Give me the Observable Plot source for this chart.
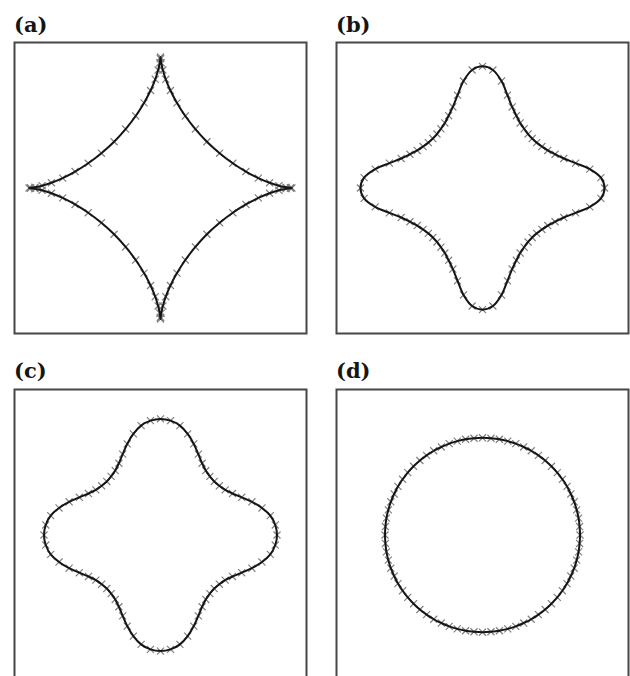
<!DOCTYPE html>
<html>
<head>
<meta charset="utf-8">
<script src="https://cdn.jsdelivr.net/npm/d3@7"></script>
<script src="https://cdn.jsdelivr.net/npm/@observablehq/plot@0.6"></script>
<style>
  html, body { margin: 0; padding: 0; background: #fff; }
  #fig { position: relative; width: 630px; height: 676px; overflow: hidden; background: #fff; }
  .lbl { position: absolute; font-family: "DejaVu Serif", serif; font-weight: bold; font-size: 21px; line-height: 21px; color: #151515; }
  .pnl { position: absolute; }
</style>
</head>
<body>
<div id="fig"></div>
<script>
// Panel labels
const labels = ["(a)", "(b)", "(c)", "(d)"];

// (a) four-cusped curve, 72 samples
const xA = [0.900,0.890,0.860,0.811,0.747,0.670,0.585,0.495,0.405,0.318,0.239,0.170,0.113,0.068,0.036,0.016,0.005,0.001,0,
  -0.001,-0.005,-0.016,-0.036,-0.068,-0.113,-0.170,-0.239,-0.318,-0.405,-0.495,-0.585,-0.670,-0.747,-0.811,-0.860,-0.890,-0.900,
  -0.890,-0.860,-0.811,-0.747,-0.670,-0.585,-0.495,-0.405,-0.318,-0.239,-0.170,-0.113,-0.068,-0.036,-0.016,-0.005,-0.001,0,
  0.001,0.005,0.016,0.036,0.068,0.113,0.170,0.239,0.318,0.405,0.495,0.585,0.670,0.747,0.811,0.860,0.890];
const yA = [0,0.001,0.005,0.016,0.036,0.068,0.113,0.170,0.239,0.318,0.405,0.495,0.585,0.670,0.747,0.811,0.860,0.890,0.900,
  0.890,0.860,0.811,0.747,0.670,0.585,0.495,0.405,0.318,0.239,0.170,0.113,0.068,0.036,0.016,0.005,0.001,0,
  -0.001,-0.005,-0.016,-0.036,-0.068,-0.113,-0.170,-0.239,-0.318,-0.405,-0.495,-0.585,-0.670,-0.747,-0.811,-0.860,-0.890,-0.900,
  -0.890,-0.860,-0.811,-0.747,-0.670,-0.585,-0.495,-0.405,-0.318,-0.239,-0.170,-0.113,-0.068,-0.036,-0.016,-0.005,-0.001];

// (b) rounded four-pointed star
const xB = [0.836,0.811,0.735,0.638,0.557,0.497,0.447,0.407,0.371,0.340,0.312,0.285,0.258,0.232,0.203,0.171,0.130,0.071,0,
  -0.071,-0.130,-0.171,-0.203,-0.232,-0.258,-0.285,-0.312,-0.340,-0.371,-0.407,-0.447,-0.497,-0.557,-0.638,-0.735,-0.811,-0.836,
  -0.811,-0.735,-0.638,-0.557,-0.497,-0.447,-0.407,-0.371,-0.340,-0.312,-0.285,-0.258,-0.232,-0.203,-0.171,-0.130,-0.071,0,
  0.071,0.130,0.171,0.203,0.232,0.258,0.285,0.312,0.340,0.371,0.407,0.447,0.497,0.557,0.638,0.735,0.811];
const yB = [0,0.071,0.130,0.171,0.203,0.232,0.258,0.285,0.312,0.340,0.371,0.407,0.447,0.497,0.557,0.638,0.735,0.811,0.836,
  0.811,0.735,0.638,0.557,0.497,0.447,0.407,0.371,0.340,0.312,0.285,0.258,0.232,0.203,0.171,0.130,0.071,0,
  -0.071,-0.130,-0.171,-0.203,-0.232,-0.258,-0.285,-0.312,-0.340,-0.371,-0.407,-0.447,-0.497,-0.557,-0.638,-0.735,-0.811,-0.836,
  -0.811,-0.735,-0.638,-0.557,-0.497,-0.447,-0.407,-0.371,-0.340,-0.312,-0.285,-0.258,-0.232,-0.203,-0.171,-0.130,-0.071];

// (c) four-lobed shape
const xC = [0.798,0.786,0.752,0.695,0.626,0.556,0.493,0.443,0.403,0.368,0.338,0.310,0.285,0.259,0.228,0.186,0.133,0.069,0,
  -0.069,-0.133,-0.186,-0.228,-0.259,-0.285,-0.310,-0.338,-0.368,-0.403,-0.443,-0.493,-0.556,-0.626,-0.695,-0.752,-0.786,-0.798,
  -0.786,-0.752,-0.695,-0.626,-0.556,-0.493,-0.443,-0.403,-0.368,-0.338,-0.310,-0.285,-0.259,-0.228,-0.186,-0.133,-0.069,0,
  0.069,0.133,0.186,0.228,0.259,0.285,0.310,0.338,0.368,0.403,0.443,0.493,0.556,0.626,0.695,0.752,0.786];
const yC = [0,0.069,0.133,0.186,0.228,0.259,0.285,0.310,0.338,0.368,0.403,0.443,0.493,0.556,0.626,0.695,0.752,0.786,0.798,
  0.786,0.752,0.695,0.626,0.556,0.493,0.443,0.403,0.368,0.338,0.310,0.285,0.259,0.228,0.186,0.133,0.069,0,
  -0.069,-0.133,-0.186,-0.228,-0.259,-0.285,-0.310,-0.338,-0.368,-0.403,-0.443,-0.493,-0.556,-0.626,-0.695,-0.752,-0.786,-0.798,
  -0.786,-0.752,-0.695,-0.626,-0.556,-0.493,-0.443,-0.403,-0.368,-0.338,-0.310,-0.285,-0.259,-0.228,-0.186,-0.133,-0.069];

// (d) near-circle
const xD = [0.668,0.665,0.658,0.645,0.628,0.605,0.579,0.547,0.512,0.472,0.429,0.383,0.334,0.282,0.228,0.173,0.116,0.058,0,
  -0.058,-0.116,-0.173,-0.228,-0.282,-0.334,-0.383,-0.429,-0.472,-0.512,-0.547,-0.579,-0.605,-0.628,-0.645,-0.658,-0.665,-0.668,
  -0.665,-0.658,-0.645,-0.628,-0.605,-0.579,-0.547,-0.512,-0.472,-0.429,-0.383,-0.334,-0.282,-0.228,-0.173,-0.116,-0.058,0,
  0.058,0.116,0.173,0.228,0.282,0.334,0.383,0.429,0.472,0.512,0.547,0.579,0.605,0.628,0.645,0.658,0.665];
const yD = [0,0.058,0.116,0.173,0.228,0.282,0.334,0.383,0.429,0.472,0.512,0.547,0.579,0.605,0.628,0.645,0.658,0.665,0.668,
  0.665,0.658,0.645,0.628,0.605,0.579,0.547,0.512,0.472,0.429,0.383,0.334,0.282,0.228,0.173,0.116,0.058,0,
  -0.058,-0.116,-0.173,-0.228,-0.282,-0.334,-0.383,-0.429,-0.472,-0.512,-0.547,-0.579,-0.605,-0.628,-0.645,-0.658,-0.665,-0.668,
  -0.665,-0.658,-0.645,-0.628,-0.605,-0.579,-0.547,-0.512,-0.472,-0.429,-0.383,-0.334,-0.282,-0.228,-0.173,-0.116,-0.058];

const series = [[xA, yA], [xB, yB], [xC, yC], [xD, yD]];

// Grid placement of the four panels (left, top of each svg; label top)
const layout = [
  {left: 12, top: 40, labelLeft: 14, labelTop: 14},
  {left: 334, top: 40, labelLeft: 336, labelTop: 14},
  {left: 12, top: 387, labelLeft: 14, labelTop: 360},
  {left: 334, top: 387, labelLeft: 336, labelTop: 360}
];

const fig = document.getElementById("fig");

series.forEach(([xs, ys], i) => {
  const pts = xs.map((x, j) => ({x, y: ys[j]}));
  const chart = Plot.plot({
    width: 296,
    height: 295,
    margin: 2,
    x: {domain: [-1, 1], axis: null},
    y: {domain: [-1, 1], axis: null},
    marks: [
      Plot.frame({stroke: "#474747", strokeWidth: 2}),
      Plot.dot(pts, {x: "x", y: "y", symbol: "times", r: 3.3, stroke: "#808080", strokeWidth: 1.2}),
      Plot.line(pts, {x: "x", y: "y", curve: "catmull-rom-closed", stroke: "#151515", strokeWidth: 2})
    ]
  });
  const box = document.createElement("div");
  box.className = "pnl";
  box.style.left = layout[i].left + "px";
  box.style.top = layout[i].top + "px";
  box.appendChild(chart);
  fig.appendChild(box);

  const lab = document.createElement("div");
  lab.className = "lbl";
  lab.style.left = layout[i].labelLeft + "px";
  lab.style.top = layout[i].labelTop + "px";
  lab.textContent = labels[i];
  fig.appendChild(lab);
});
</script>
</body>
</html>
